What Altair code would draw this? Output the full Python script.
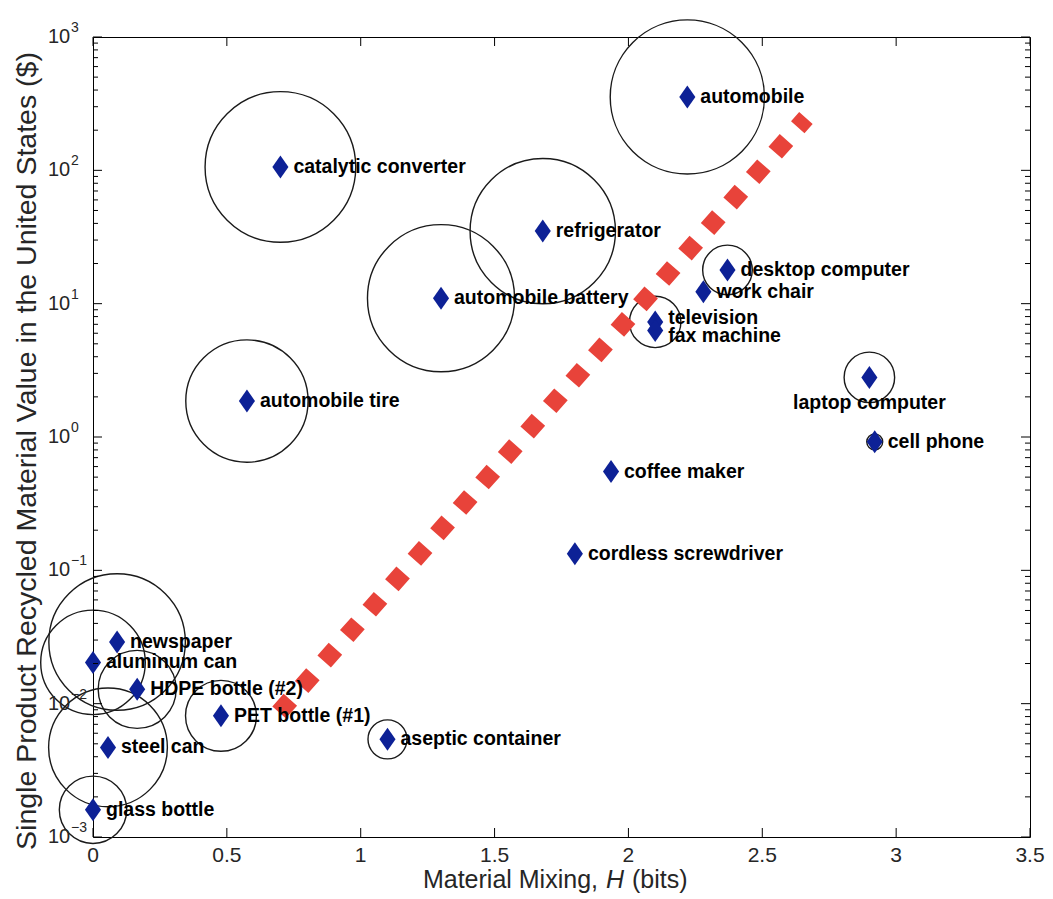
import altair as alt
import pandas as pd

# ---------------- data ----------------
products = ["automobile", "catalytic converter", "refrigerator", "automobile battery",
            "desktop computer", "work chair", "television", "fax machine",
            "laptop computer", "cell phone", "automobile tire", "coffee maker",
            "cordless screwdriver", "newspaper", "aluminum can", "HDPE bottle (#2)",
            "PET bottle (#1)", "aseptic container", "steel can", "glass bottle"]
mixing = [2.22, 0.70, 1.68, 1.30, 2.37, 2.28, 2.10, 2.10, 2.90, 2.92, 0.575, 1.935,
          1.80, 0.09, 0.0, 0.165, 0.478, 1.10, 0.056, 0.0]
value = [355, 106, 35, 11, 17.9, 12.3, 7.3, 6.3, 2.8, 0.92, 1.86, 0.55, 0.133,
         0.029, 0.0204, 0.0128, 0.0081, 0.0054, 0.0047, 0.0016]
# relative bubble magnitude (0 = no bubble drawn)
bubble = [87, 85, 82, 83, 28, 0, 29, 0, 28.5, 9, 69, 0, 0, 77, 59, 44, 40, 22, 67, 38]

trend_x = [0.695, 2.663]
trend_y = [0.0086, 247]

x_ticks = [0, 0.5, 1, 1.5, 2, 2.5, 3, 3.5]
x_tick_labels = ["0", "0.5", "1", "1.5", "2", "2.5", "3", "3.5"]
y_major = [1e-3, 1e-2, 1e-1, 1e0, 1e1, 1e2, 1e3]
y_exp = ["\u22123", "\u22122", "\u22121", "0", "1", "2", "3"]
y_minor = [2e-3, 3e-3, 4e-3, 5e-3, 6e-3, 7e-3, 8e-3, 9e-3,
           2e-2, 3e-2, 4e-2, 5e-2, 6e-2, 7e-2, 8e-2, 9e-2,
           2e-1, 3e-1, 4e-1, 5e-1, 6e-1, 7e-1, 8e-1, 9e-1,
           2, 3, 4, 5, 6, 7, 8, 9,
           20, 30, 40, 50, 60, 70, 80, 90,
           200, 300, 400, 500, 600, 700, 800, 900]

# ---------------- tables ----------------
df = pd.DataFrame({"product": products, "H": mixing, "V": value, "b": bubble})
trend = pd.DataFrame({"H": trend_x, "V": trend_y, "o": [0, 1]})
xt = pd.DataFrame({"t": x_ticks, "l": x_tick_labels})
ymaj = pd.DataFrame({"t": y_major, "e": y_exp})
ymin = pd.DataFrame({"t": y_minor})

W, Hh = 937, 800
FONT = "Liberation Sans"
AXC = "#262626"

xs = alt.Scale(domain=[0, 3.5], nice=False, zero=False)
ys = alt.Scale(type="log", domain=[0.001, 1000], nice=False)

X = lambda f: alt.X(f, type="quantitative", scale=xs, axis=None)
Y = lambda f: alt.Y(f, type="quantitative", scale=ys, axis=None)

base = alt.Chart(df)

circles = base.transform_filter("datum.b > 0").mark_point(
    shape="circle", filled=False, color="#1a1a1a", strokeWidth=1.4, opacity=1
).encode(
    x=X("H"), y=Y("V"),
    size=alt.Size("b:Q", scale=alt.Scale(type="pow", exponent=2, domain=[0, 100],
                                         range=[0, 31416]), legend=None),
)

trend_line = alt.Chart(trend).mark_line(
    color="#e8433a", strokeWidth=18, strokeDash=[17, 17], strokeCap="butt"
).encode(x=X("H"), y=Y("V"), order="o:Q")

diamonds = base.mark_point(
    shape="M0,-1L0.7,0L0,1L-0.7,0Z", filled=True, color="#0d2196",
    size=529, opacity=1, strokeWidth=0
).encode(x=X("H"), y=Y("V"))

lab_kw = dict(baseline="middle", font=FONT, fontSize=19.5, fontWeight="bold", color="black")
special = ["laptop computer", "television", "fax machine"]
labels = base.transform_filter(
    ~alt.FieldOneOfPredicate(field="product", oneOf=special)
).mark_text(align="left", dx=13, **lab_kw).encode(x=X("H"), y=Y("V"), text="product:N")
lab_laptop = base.transform_filter(alt.datum.product == "laptop computer").mark_text(
    align="center", dy=26, **lab_kw).encode(x=X("H"), y=Y("V"), text="product:N")
lab_tv = base.transform_filter(alt.datum.product == "television").mark_text(
    align="left", dx=13, dy=-4, **lab_kw).encode(x=X("H"), y=Y("V"), text="product:N")
lab_fax = base.transform_filter(alt.datum.product == "fax machine").mark_text(
    align="left", dx=13, dy=6, **lab_kw).encode(x=X("H"), y=Y("V"), text="product:N")

# ticks (inward, on all four sides)
tk = dict(color="black", strokeWidth=1)
xb = alt.Chart(xt).mark_rule(**tk).encode(x=X("t"), y=alt.value(Hh), y2=alt.value(Hh - 9))
xtp = alt.Chart(xt).mark_rule(**tk).encode(x=X("t"), y=alt.value(0), y2=alt.value(9))
yl = alt.Chart(ymaj).mark_rule(**tk).encode(y=Y("t"), x=alt.value(0), x2=alt.value(9))
yr = alt.Chart(ymaj).mark_rule(**tk).encode(y=Y("t"), x=alt.value(W), x2=alt.value(W - 9))
yml = alt.Chart(ymin).mark_rule(**tk).encode(y=Y("t"), x=alt.value(0), x2=alt.value(5))
ymr = alt.Chart(ymin).mark_rule(**tk).encode(y=Y("t"), x=alt.value(W), x2=alt.value(W - 5))

# x tick labels
xlab = alt.Chart(xt).mark_text(align="center", baseline="alphabetic", font=FONT,
                               fontSize=21, color=AXC).encode(
    x=X("t"), y=alt.value(Hh + 25), text="l:N")

# y tick labels 10^k
ten = alt.Chart(ymaj).mark_text(align="left", baseline="middle", font=FONT,
                                fontSize=20, color=AXC).encode(
    y=Y("t"), x=alt.value(-45), text=alt.value("10"))
expo = alt.Chart(ymaj).mark_text(align="left", baseline="middle", font=FONT,
                                 fontSize=14, dy=-9, color=AXC).encode(
    y=Y("t"), x=alt.value(-22), text="e:N")

# axis titles
ytitle = alt.Chart(pd.DataFrame({"s": ["Single Product Recycled Material Value in the United States ($)"]})).mark_text(
    angle=270, align="center", baseline="middle", font=FONT, fontSize=28.5, color=AXC
).encode(x=alt.value(-66), y=alt.value(414), text="s:N")

TY = 851
tparts = pd.DataFrame({"s": ["Material Mixing,", "H", "(bits)"]})
xt1 = alt.Chart(tparts).transform_filter(alt.datum.s == "Material Mixing,").mark_text(
    align="right", baseline="alphabetic", font=FONT, fontSize=25, color=AXC
).encode(x=alt.value(505), y=alt.value(TY), text="s:N")
xt2 = alt.Chart(tparts).transform_filter(alt.datum.s == "H").mark_text(
    align="center", baseline="alphabetic", font=FONT, fontSize=25, fontStyle="italic", color=AXC
).encode(x=alt.value(522), y=alt.value(TY), text="s:N")
xt3 = alt.Chart(tparts).transform_filter(alt.datum.s == "(bits)").mark_text(
    align="left", baseline="alphabetic", font=FONT, fontSize=25, color=AXC
).encode(x=alt.value(539), y=alt.value(TY), text="s:N")

chart = alt.layer(
    circles, trend_line, diamonds, labels, lab_laptop, lab_tv, lab_fax,
    xb, xtp, yl, yr, yml, ymr, xlab, ten, expo, ytitle, xt1, xt2, xt3
).properties(
    width=W, height=Hh,
    background="white",
    autosize=alt.AutoSizeParams(type="none"),
    padding={"left": 85, "top": 29, "right": 15, "bottom": 57},
).configure_view(stroke="black", strokeWidth=1)

chart.save("out.html", embed_options={"renderer": "svg", "actions": False})
